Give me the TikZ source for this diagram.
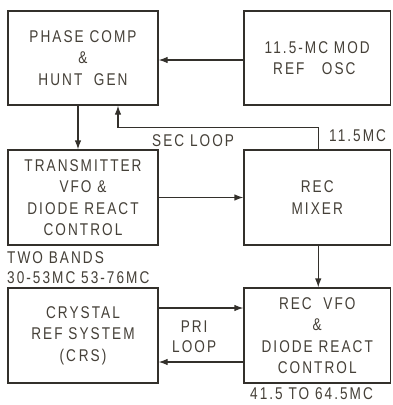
\documentclass[tikz,border=0pt]{standalone}
\usepackage{fontspec}
\setmainfont{Liberation Sans}[FakeStretch=0.8,LetterSpace=12]
\usetikzlibrary{arrows.meta}
\definecolor{ink}{rgb}{0.2,0.19,0.17}
\definecolor{txt}{rgb}{0.27,0.25,0.22}
\begin{document}
\begin{tikzpicture}[x=1pt,y=-1pt,
  blk/.style={draw=ink,line width=1.2pt,minimum width=150pt,minimum height=94pt,inner sep=0pt,
    align=center,text=txt,font=\fontsize{17}{21.5}\selectfont},
  blkr/.style={blk,minimum width=146.5pt},
  lbl/.style={text=txt,font=\fontsize{17}{19.5}\selectfont,inner sep=0pt,anchor=west,align=left},
  arr/.style={draw=ink,line width=1.2pt,-{Latex[length=9pt,width=6.5pt]}},
  ln/.style={draw=ink,line width=1.2pt}]
\useasboundingbox (0,0) rectangle (392,405);
\fill[white] (0,0) rectangle (392,405);
\node[blk] (phase) at (83,58) {PHASE COMP\\\&\\HUNT\ \ GEN};
\node[blkr] (osc) at (317.25,58) {11.5-MC MOD\\REF\ \ \ OSC\ \ };
\node[blk,minimum height=95pt] (tx) at (83,197.5) {TRANSMITTER\\VFO \&\\DIODE REACT\\CONTROL};
\node[blkr,minimum height=95pt] (mixer) at (317.25,197.5) {REC\\MIXER};
\node[blkr,minimum height=95pt] (vfo) at (317.25,335.5) {REC\ \ VFO\\\&\\DIODE REACT\\CONTROL};
\node[blk,minimum height=95pt] (crs) at (83,335.5) {\raisebox{-4pt}{\begin{tabular}{@{}c@{}}CRYSTAL\\REF SYSTEM\\(C\,RS)\end{tabular}}};
\draw[arr] ([yshift=-2pt]osc.west) -- ([yshift=-2pt]phase.east);
\draw[arr] ([xshift=-5pt]phase.south) -- ([xshift=-5pt]tx.north);
\draw[arr] ([xshift=1.5pt]mixer.north) -- ++(0,-22) -| ([xshift=35pt]phase.south);
\draw[arr] (tx.east) -- (mixer.west);
\draw[arr] ([xshift=1pt]mixer.south) -- ([xshift=1pt]vfo.north);
\draw[arr] ([yshift=27.5pt]crs.east) -- ([yshift=27.5pt]vfo.west);
\draw[arr] ([yshift=-26.5pt]vfo.west) -- ([yshift=-26.5pt]crs.east);
\node[lbl] (sec) at (152,141) {SEC LOOP};
\node[lbl] (mc) at (329,136) {11.5MC};
\node[lbl] (bands) at (7,267.5) {TWO BANDS\\30-53MC 53-76MC};
\node[lbl,align=center] (pri) at (172,336.5) {PRI\\LOOP};
\node[lbl] (range) at (250,394) {41.5 TO 64.5MC};
\end{tikzpicture}
\end{document}
